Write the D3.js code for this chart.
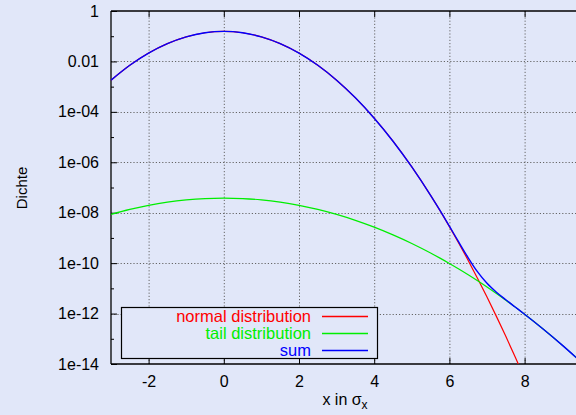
<!DOCTYPE html>
<html><head><meta charset="utf-8">
<script src="https://cdn.jsdelivr.net/npm/d3@7"></script>
<style>
html,body{margin:0;padding:0;background:#e1e7f9;}
svg{display:block;font-family:"Liberation Sans",Arial,Helvetica,sans-serif;}
</style></head>
<body>
<svg id="chart" width="576" height="415"></svg>
<script>
// x positions (in sigma_x)
const xs = [-3,-2.5,-2,-1.5,-1,-0.5,0,0.5,1,1.5,2,2.5,3,3.5,4,4.5,5,5.5,5.75,6,6.25,6.5,6.75,7,7.25,7.5,7.75,8,8.5,9,9.5];
// normal distribution values
const normalVals = [1.80e-3,7.02e-3,2.14e-2,5.08e-2,9.44e-2,0.137,0.155,0.137,9.44e-2,5.08e-2,2.14e-2,7.02e-3,1.80e-3,3.60e-4,5.62e-5,6.86e-6,6.53e-7,4.85e-8,1.21e-8,2.82e-9,6.19e-10,1.28e-10,2.48e-11,4.52e-12,7.74e-13,1.25e-13,1.89e-14,2.69e-15,4.5e-17,5.96e-19,6.1e-21];
// tail distribution values
const tailVals = [8.55e-9,1.35e-8,1.96e-8,2.62e-8,3.22e-8,3.65e-8,3.80e-8,3.65e-8,3.22e-8,2.62e-8,1.96e-8,1.35e-8,8.55e-9,4.99e-9,2.68e-9,1.32e-9,6.03e-10,2.52e-10,1.58e-10,9.73e-11,5.85e-11,3.45e-11,1.99e-11,1.13e-11,6.25e-12,3.39e-12,1.80e-12,9.38e-13,2.39e-13,5.60e-14,1.21e-14];
// sum
const sumVals = [1.80e-3,7.02e-3,2.14e-2,5.08e-2,9.44e-2,0.137,0.155,0.137,9.44e-2,5.08e-2,2.14e-2,7.02e-3,1.80e-3,3.60e-4,5.62e-5,6.86e-6,6.54e-7,4.88e-8,1.226e-8,2.92e-9,6.78e-10,1.63e-10,4.47e-11,1.58e-11,7.02e-12,3.52e-12,1.82e-12,9.41e-13,2.39e-13,5.60e-14,1.21e-14];

const xTicks = [-2,0,2,4,6,8];
const xTickLabels = ["-2","0","2","4","6","8"];
const yTicks = [1,1e-2,1e-4,1e-6,1e-8,1e-10,1e-12,1e-14];
const yTickLabels = ["1","0.01","1e-04","1e-06","1e-08","1e-10","1e-12","1e-14"];
const yMinor = [1e-1,1e-3,1e-5,1e-7,1e-9,1e-11,1e-13];
const seriesNames = ["normal distribution","tail distribution","sum"];
const seriesColors = ["#ff0000","#00ee00","#0000ff"];

const svg = d3.select("#chart");
const L = 111, T = 11, R = 581, B = 364;
const x = d3.scaleLinear().domain([-3,9.5]).range([L,R]);
const y = d3.scaleLog().domain([1e-14,1]).range([B,T]);

svg.append("defs").append("clipPath").attr("id","clip")
  .append("rect").attr("x",L).attr("y",T).attr("width",R-L).attr("height",B-T);

// grid
const grid = svg.append("g").attr("stroke","#666").attr("stroke-dasharray","1.2,2").attr("stroke-width",1);
xTicks.forEach(t=>grid.append("line").attr("x1",x(t)+0.5).attr("x2",x(t)+0.5).attr("y1",T).attr("y2",B));
yTicks.slice(1,-1).forEach(t=>grid.append("line").attr("x1",L).attr("x2",R).attr("y1",Math.round(y(t))+0.5).attr("y2",Math.round(y(t))+0.5));

// axes with d3 axis (ticks inward)
const yAxis = d3.axisLeft(y).tickValues(yTicks).tickSize(-6).tickFormat((d,i)=>yTickLabels[i]).tickPadding(12);
const gy = svg.append("g").attr("transform",`translate(${L},0)`).call(yAxis);
gy.select(".domain").remove();
gy.selectAll("text").attr("font-size","16px").attr("fill","#000").attr("font-family","Liberation Sans, Arial, sans-serif");
const gyMinor = svg.append("g").attr("transform",`translate(${L},0)`)
  .call(d3.axisLeft(y).tickValues(yMinor).tickSize(-3).tickFormat(""));
gyMinor.select(".domain").remove();

const xAxis = d3.axisBottom(x).tickValues(xTicks).tickSize(-6).tickPadding(12).tickFormat((d,i)=>xTickLabels[i]);
const gx = svg.append("g").attr("transform",`translate(0,${B})`).call(xAxis);
gx.select(".domain").remove();
gx.selectAll("text").attr("font-size","16px").attr("fill","#000").attr("font-family","Liberation Sans, Arial, sans-serif");
const gxTop = svg.append("g").attr("transform",`translate(0,${T})`)
  .call(d3.axisTop(x).tickValues(xTicks).tickSize(-6).tickFormat(""));
gxTop.select(".domain").remove();

// border
const border = svg.append("g").attr("stroke","#000").attr("stroke-width",1.3).attr("fill","none");
border.append("line").attr("x1",L).attr("x2",L).attr("y1",T).attr("y2",B);
border.append("line").attr("x1",L).attr("x2",R).attr("y1",T).attr("y2",T);
border.append("line").attr("x1",L).attr("x2",R).attr("y1",B).attr("y2",B);

// curves
const line = d3.line().x((d)=>x(d[0])).y(d=>y(d[1])).curve(d3.curveMonotoneX);
const plot = svg.append("g").attr("clip-path","url(#clip)");
const allVals = [normalVals, tailVals, sumVals];
allVals.forEach((vals,i)=>{
  plot.append("path").datum(xs.map((xv,j)=>[xv,vals[j]]))
    .attr("d",line).attr("fill","none").attr("stroke",seriesColors[i])
    .attr("stroke-width", i===2?1.4:1.2);
});

// legend
const lg = svg.append("g");
lg.append("rect").attr("x",121.5).attr("y",307.5).attr("width",256).attr("height",51)
  .attr("fill","#e1e7f9").attr("stroke","#000").attr("stroke-width",1.2);
seriesNames.forEach((n,i)=>{
  const cy = 316.5 + i*17;
  lg.append("text").attr("x",311).attr("y",cy).attr("dy","0.35em").attr("text-anchor","end")
    .attr("font-size","16.5px").attr("fill",seriesColors[i]).text(n);
  lg.append("line").attr("x1",322).attr("x2",368).attr("y1",cy).attr("y2",cy)
    .attr("stroke",seriesColors[i]).attr("stroke-width",1.3);
});

// axis titles
svg.append("text").attr("transform","translate(27,188) rotate(-90)").attr("text-anchor","middle")
  .attr("font-size","15px").attr("fill","#000").text("Dichte");
const xt = svg.append("text").attr("x",345).attr("y",405).attr("text-anchor","middle")
  .attr("font-size","16px").attr("fill","#000");
xt.append("tspan").text("x in σ");
xt.append("tspan").attr("dy","4").attr("font-size","12px").text("x");
</script>
</body></html>
